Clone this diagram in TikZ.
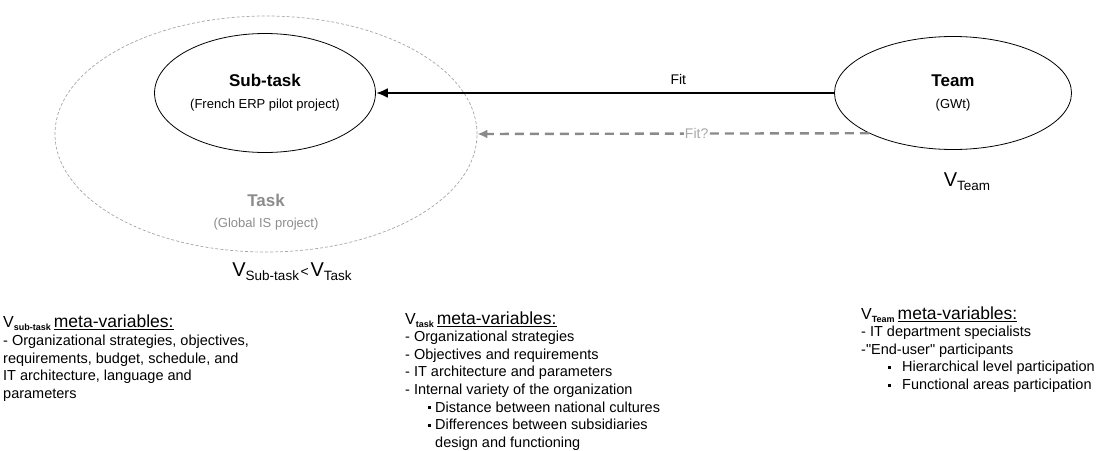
\documentclass[tikz,border=0pt]{standalone}
\usepackage{xcolor}
\usepackage{fontspec}
\setmainfont{Liberation Sans}
\newfontfamily\quotefont{Liberation Sans}
\usepackage{tikz}
\usetikzlibrary{shapes.geometric, arrows.meta, positioning}

\definecolor{taskgray}{HTML}{8C8C8C}
\definecolor{fitgray}{HTML}{8A8A8A}
\definecolor{fitqtext}{HTML}{A8A8A8}

\newcommand{\bigvar}[1]{{\fontsize{20}{24}\selectfont V}\raisebox{-4pt}{\fontsize{13.5}{16}\selectfont #1}}
\newcommand{\metahead}[1]{{\fontsize{16}{19}\selectfont V}\raisebox{-3pt}{\fontsize{9}{11}\selectfont\bfseries #1}\hspace{3pt}{\fontsize{17.5}{20}\selectfont\underline{meta-variables:}}}
\newcommand{\sqbullet}{\rule[3pt]{3pt}{3pt}}
\newcommand{\dq}{{\quotefont"}}

\begin{document}
\begin{tikzpicture}[x=1pt, y=-1pt,
    body/.style={inner sep=0pt, align=left, font=\fontsize{14.5}{17.6}\selectfont},
    head/.style={anchor=west, inner sep=0pt}]
    \useasboundingbox (0,0) rectangle (1107,450);

    \node[draw=gray!70, ellipse, dash pattern=on 3pt off 2pt, line width=0.7pt, minimum width=422pt, minimum height=236pt, inner sep=0pt] at (266,134) (task) {};
    \node[draw, ellipse, line width=0.8pt, minimum width=214pt, minimum height=119pt, align=center, font=\fontsize{13}{22}\selectfont] at (265,93) (sub) {{\fontsize{17}{22}\selectfont\bfseries Sub-task}\\(French ERP pilot project)};
    \node[draw, ellipse, line width=0.8pt, minimum width=237pt, minimum height=113pt, align=center, font=\fontsize{13}{22}\selectfont] at (953,93) (team) {{\fontsize{17}{22}\selectfont\bfseries Team}\\(GWt)};

    \node[text=taskgray, align=center, font=\fontsize{13}{21}\selectfont] at (266,212) (tasklbl) {{\fontsize{17}{21}\selectfont\bfseries Task}\\(Global IS project)};

    \draw[-{Latex[length=12pt, width=10pt]}, line width=2.4pt] (team.west) -- node[pos=0.34, above=4pt, font=\fontsize{14}{16}\selectfont] {Fit} (sub.east);
    \draw[-{Latex[length=10pt, width=9pt]}, line width=2.4pt, fitgray, dash pattern=on 9pt off 6pt] (team.south west) -- node[pos=0.44, fill=white, text=fitqtext, inner sep=1pt, font=\fontsize{14}{16}\selectfont] {Fit?} (task.east);

    \node at (967,182) (vteam) {\bigvar{Team}};
    \node at (292,272) (vrel) {\bigvar{Sub-task}\,{\fontsize{14}{16}\selectfont<}\,\bigvar{Task}};

    % meta-variable lists
    \node[head] at (3,323) (headsub) {\metahead{sub-task}};
    \node[body, below right=4pt and 0pt of headsub.south west] (bodysub) {- Organizational strategies, objectives,\\
        requirements, budget, schedule, and\\
        IT architecture, language and\\
        parameters};

    \node[head] at (405,320) (headtask) {\metahead{task}};
    \node[body, below right=3pt and 0pt of headtask.south west] (bodytask) {- Organizational strategies\\
        - Objectives and requirements\\
        - IT architecture and parameters\\
        - Internal variety of the organization\\
        \hspace*{23pt}\sqbullet\hspace{4pt}Distance between national cultures\\
        \hspace*{23pt}\sqbullet\hspace{4pt}Differences between subsidiaries\\
        \hspace*{30pt}design and functioning};

    \node[head] at (861,315) (headteam) {\metahead{Team}};
    \node[body, below right=3pt and 0pt of headteam.south west] (bodyteam) {- IT department specialists\\
        -\dq End-user\dq{} participants\\
        \hspace*{27pt}\sqbullet\hspace{11pt}Hierarchical level participation\\
        \hspace*{27pt}\sqbullet\hspace{11pt}Functional areas participation};
\end{tikzpicture}
\end{document}
